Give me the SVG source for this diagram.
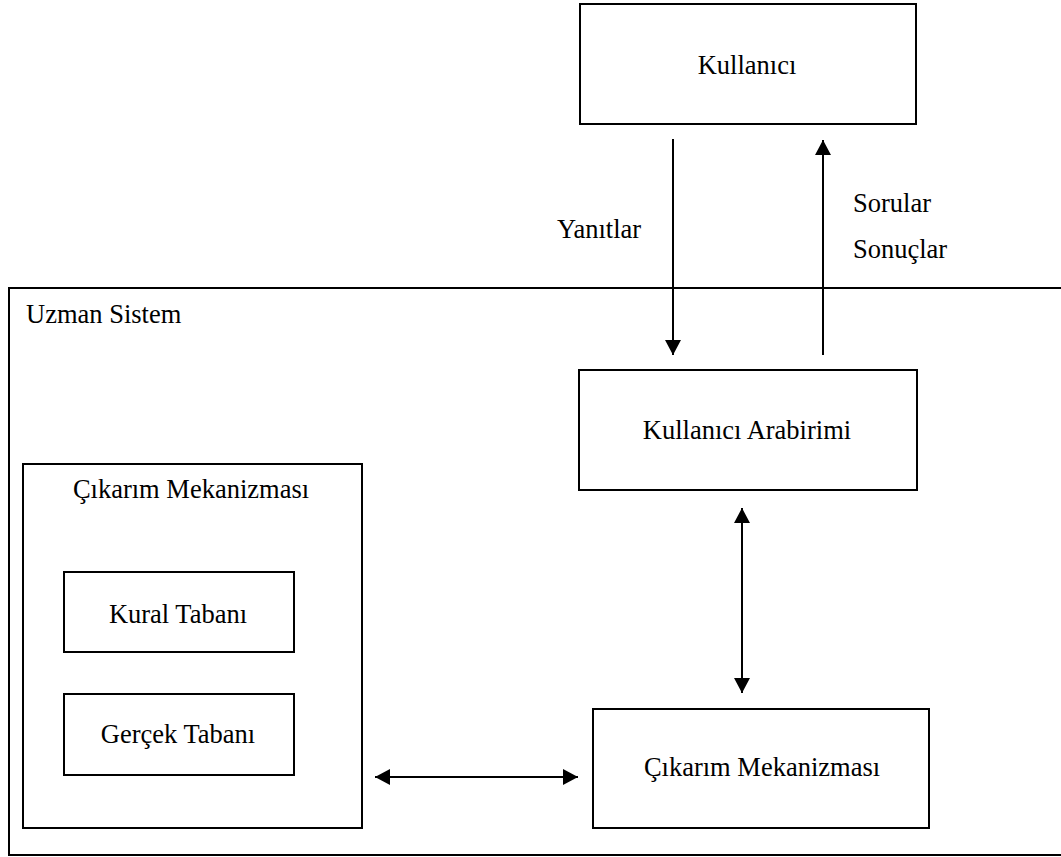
<svg xmlns="http://www.w3.org/2000/svg" width="1061" height="857" viewBox="0 0 1061 857">
  <style>
    .box { fill: none; stroke: #000; stroke-width: 2; }
    .lbl { font-family: "Liberation Serif", "Times New Roman", serif; font-size: 26.5px; fill: #000; }
    .mid { text-anchor: middle; }
    .conn { stroke: #000; stroke-width: 2; fill: none; }
  </style>
  <defs>
    <marker id="ah" viewBox="0 0 15 16" refX="15" refY="8" markerWidth="15" markerHeight="16" markerUnits="userSpaceOnUse" orient="auto-start-reverse">
      <path d="M0,0 L15,8 L0,16 z" fill="#000"/>
    </marker>
  </defs>
  <rect width="1061" height="857" fill="#fff"/>

  <g id="uzman-sistem">
    <rect class="box" x="9" y="288" width="1060" height="567"/>
    <text class="lbl" x="26" y="323">Uzman Sistem</text>
  </g>

  <g id="kullanici">
    <rect class="box" x="580" y="4" width="336" height="120"/>
    <text class="lbl mid" x="747" y="74">Kullanıcı</text>
  </g>

  <g id="kullanici-arabirimi">
    <rect class="box" x="579" y="370" width="338" height="120"/>
    <text class="lbl mid" x="747" y="439">Kullanıcı Arabirimi</text>
  </g>

  <g id="cikarim-mekanizmasi">
    <rect class="box" x="593" y="709" width="336" height="119"/>
    <text class="lbl mid" x="762" y="776">Çıkarım Mekanizması</text>
  </g>

  <g id="cikarim-mekanizmasi-grup">
    <rect class="box" x="23" y="464" width="339" height="364"/>
    <text class="lbl mid" x="191" y="498">Çıkarım Mekanizması</text>
  </g>

  <g id="kural-tabani">
    <rect class="box" x="64" y="572" width="230" height="80"/>
    <text class="lbl mid" x="178" y="623">Kural Tabanı</text>
  </g>

  <g id="gercek-tabani">
    <rect class="box" x="64" y="694" width="230" height="81"/>
    <text class="lbl mid" x="178" y="743">Gerçek Tabanı</text>
  </g>

  <g id="connectors">
    <line class="conn" x1="673" y1="139" x2="673" y2="355" marker-end="url(#ah)"/>
    <line class="conn" x1="823" y1="355" x2="823" y2="140" marker-end="url(#ah)"/>
    <line class="conn" x1="742" y1="508" x2="742" y2="693" marker-start="url(#ah)" marker-end="url(#ah)"/>
    <line class="conn" x1="375" y1="777" x2="578" y2="777" marker-start="url(#ah)" marker-end="url(#ah)"/>
    <text class="lbl" x="557" y="238">Yanıtlar</text>
    <text class="lbl" x="853" y="212">Sorular</text>
    <text class="lbl" x="853" y="258">Sonuçlar</text>
  </g>
</svg>
